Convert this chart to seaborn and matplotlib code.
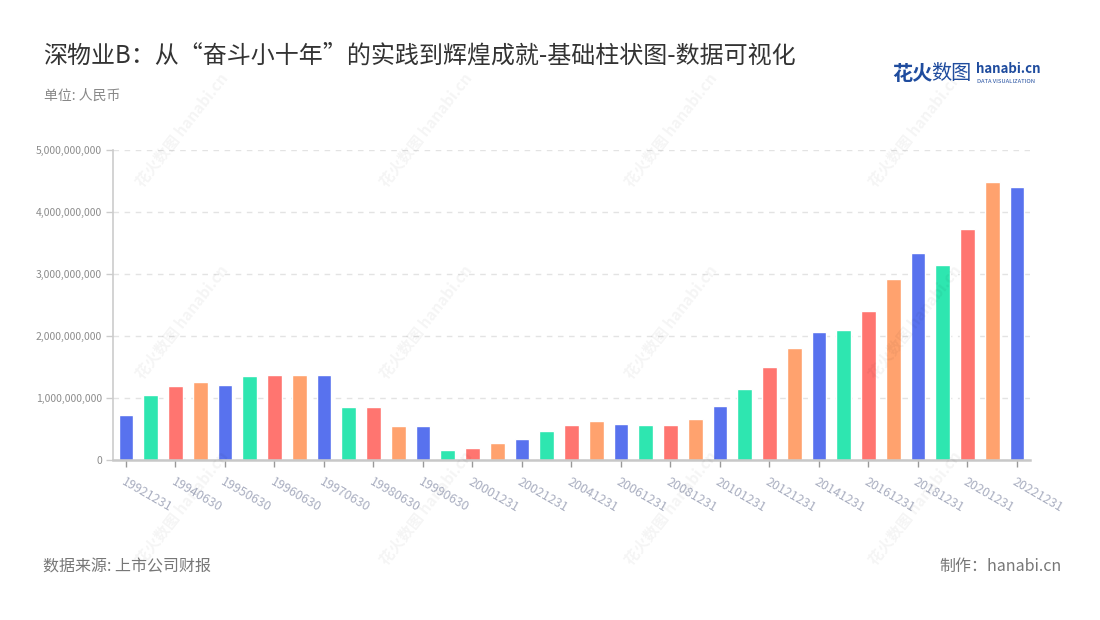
import matplotlib
matplotlib.use('Agg')
import matplotlib.pyplot as plt
import seaborn as sns
import pandas as pd
from matplotlib.ticker import FuncFormatter, MultipleLocator

# dados
dates = ['19921231', '19931231', '19940630', '19941231', '19950630', '19951231',
         '19960630', '19961231', '19970630', '19971231', '19980630', '19981231',
         '19990630', '19991231', '20001231', '20011231', '20021231', '20031231',
         '20041231', '20051231', '20061231', '20071231', '20081231', '20091231',
         '20101231', '20111231', '20121231', '20131231', '20141231', '20151231',
         '20161231', '20171231', '20181231', '20191231', '20201231', '20211231',
         '20221231']
values = [726000000, 1054000000, 1194000000, 1258000000, 1215000000, 1355000000,
          1376000000, 1366000000, 1376000000, 855000000, 860000000, 543000000,
          554000000, 167000000, 199000000, 274000000, 339000000, 473000000,
          565000000, 629000000, 581000000, 559000000, 570000000, 661000000,
          871000000, 1140000000, 1500000000, 1801000000, 2070000000, 2097000000,
          2409000000, 2919000000, 3333000000, 3145000000, 3726000000, 4484000000,
          4409000000]
bar_colors = ['#5872ee', '#2ee6b0', '#ff7570', '#ffa26e']

df = pd.DataFrame({'date': dates, 'value': values})
palette = [bar_colors[i % 4] for i in range(len(dates))]

sns.set_theme(style='white')
plt.rcParams['font.family'] = ['Noto Sans CJK SC', 'DejaVu Sans']

fig = plt.figure(figsize=(11, 6.2), dpi=100)
ax = fig.add_axes([0.1027, 0.258, 0.8336, 0.5])

sns.barplot(data=df, x='date', y='value', hue='date', palette=palette,
            legend=False, width=0.6, saturation=1, ax=ax)

ax.set_xlim(-0.525, len(dates) - 0.475)
ax.set_ylim(0, 5000000000)
ax.yaxis.set_major_locator(MultipleLocator(1000000000))
ax.yaxis.set_major_formatter(FuncFormatter(lambda v, p: f'{int(v):,}'))
ax.grid(axis='y', color='#e3e3e3', linestyle=(0, (4, 4)), linewidth=1)
ax.set_axisbelow(True)
ax.set_xlabel('')
ax.set_ylabel('')

for s in ['top', 'right']:
    ax.spines[s].set_visible(False)
ax.spines['left'].set_color('#cccccc')
ax.spines['left'].set_linewidth(1.2)
ax.spines['bottom'].set_color('#c8c8c8')
ax.spines['bottom'].set_linewidth(1.8)

pos = list(range(0, len(dates), 2))
ax.set_xticks(pos)
ax.set_xticklabels([dates[i] for i in pos], rotation=-30, ha='left', va='top',
                   rotation_mode='anchor', fontsize=9, color='#a9aec0')
ax.tick_params(axis='x', length=5, width=1, color='#999999', pad=6, bottom=True)
ax.tick_params(axis='y', length=5, width=1, color='#cccccc', labelsize=7.5,
               labelcolor='#8c8c8c', pad=3, left=True)

# marca d'agua
for yy in [0.79, 0.48, 0.18]:
    for xx in [0.165, 0.387, 0.61, 0.832]:
        fig.text(xx, yy, '花火数图 hanabi.cn', rotation=52, fontsize=11,
                 fontweight='bold', color='#000000', alpha=0.045,
                 ha='center', va='center')

# textos
fig.text(0.039, 0.91, '深物业B：从“奋斗小十年”的实践到辉煌成就-基础柱状图-数据可视化',
         fontsize=17.3, color='#333333', ha='left', va='center')
fig.text(0.04, 0.845, '单位: 人民币', fontsize=10, color='#888888',
         ha='left', va='center')
fig.text(0.039, 0.086, '数据来源: 上市公司财报', fontsize=11.5, color='#777777',
         ha='left', va='center')
fig.text(0.965, 0.086, '制作：hanabi.cn', fontsize=11.5, color='#777777',
         ha='right', va='center')

# logo
fig.text(0.811, 0.882, '花火', fontsize=14.5, fontweight='bold', color='#1f4c9e',
         ha='left', va='center')
fig.text(0.8465, 0.882, '数图', fontsize=14.5, color='#1f4c9e', ha='left', va='center')
fig.text(0.8875, 0.888, 'hanabi.cn', fontsize=9.5, fontweight='bold',
         color='#1f4c9e', ha='left', va='center')
fig.text(0.888, 0.869, 'DATA VISUALIZATION', fontsize=4.2, color='#1f4c9e',
         ha='left', va='center')

plt.savefig('out.png', dpi=100)
